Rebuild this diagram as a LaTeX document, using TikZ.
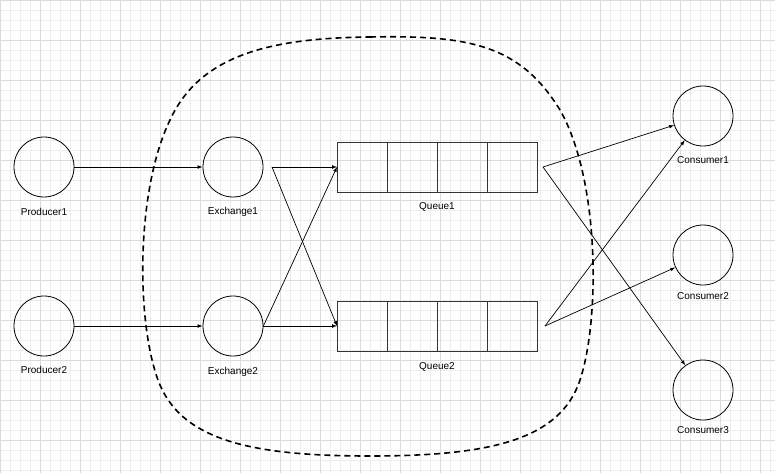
\documentclass[tikz,border=0pt]{standalone}
\usepackage{fontspec}
\setmainfont{Liberation Sans}
\begin{document}
\begin{tikzpicture}[x=1pt,y=-1pt,
  circ/.style={draw,circle,minimum size=60pt,inner sep=0pt,line width=0.8pt},
  lbl/.style={font=\fontsize{10}{11}\selectfont},
  arr/.style={-latex,line width=0.7pt},
  gridfine/.style={black!7,line width=0.5pt},
  gridbold/.style={black!14,line width=0.5pt},
  cell/.style={draw=black!80,minimum width=50pt,minimum height=50pt,inner sep=0pt,line width=0.5pt}]
\useasboundingbox (0,0) rectangle (775,473);
\fill[white] (0,0) rectangle (775,473);
\foreach \x in {0,10,...,770} \draw[gridfine] (\x,0) -- (\x,473);
\foreach \y in {0,10,...,470} \draw[gridfine] (0,\y) -- (775,\y);
\foreach \x in {0,40,...,770} \draw[gridbold] (\x,0) -- (\x,473);
\foreach \y in {0,40,...,470} \draw[gridbold] (0,\y) -- (775,\y);
% dashed boundary
\draw[line width=1.6pt,dash pattern=on 6pt off 4pt]
  (370,37) .. controls (470,35) and (520,45) .. (560,110)
  .. controls (600,180) and (600,320) .. (580,380)
  .. controls (560,440) and (490,456) .. (370,456)
  .. controls (250,456) and (180,440) .. (158,380)
  .. controls (136,320) and (136,190) .. (170,120)
  .. controls (200,55) and (270,38) .. (370,37) -- cycle;
\node[circ] (p1) at (44,167) {};
\node[circ] (p2) at (44,326) {};
\node[circ] (e1) at (233,167) {};
\node[circ] (e2) at (233,326) {};
\node[circ] (c1) at (703,116) {};
\node[circ] (c2) at (703,255) {};
\node[circ] (c3) at (703,390) {};
\node[lbl] at (44,212) {Producer1};
\node[lbl] at (44,370) {Producer2};
\node[lbl] at (233,212) {Exchange1};
\node[lbl] at (233,372) {Exchange2};
\node[lbl] at (703,160) {Consumer1};
\node[lbl] at (703,296) {Consumer2};
\node[lbl] at (703,430) {Consumer3};
\foreach \i in {0,1,2,3}{
  \node[cell] (qa\i) at (362+50*\i,167) {};
  \node[cell] (qb\i) at (362+50*\i,326) {};
}
\node[lbl] at (437,207) {Queue1};
\node[lbl] at (437,367) {Queue2};
\coordinate (q1in) at (337,167);
\coordinate (q2in) at (337,326);
\coordinate (e1out) at (272,167);
\coordinate (q1out) at (543,167);
\coordinate (q2out) at (545,326);
\draw[arr] (p1) -- (e1);
\draw[arr] (p2) -- (e2);
\draw[arr] (e1out) -- (q1in);
\draw[arr] (e1out) -- (q2in);
\draw[arr] (e2.east) -- (q1in);
\draw[arr] (e2.east) -- (q2in);
\draw[arr] (q1out) -- (c1);
\draw[arr] (q1out) -- (c3);
\draw[arr] (q2out) -- (c1);
\draw[arr] (q2out) -- (c2);
\end{tikzpicture}
\end{document}
